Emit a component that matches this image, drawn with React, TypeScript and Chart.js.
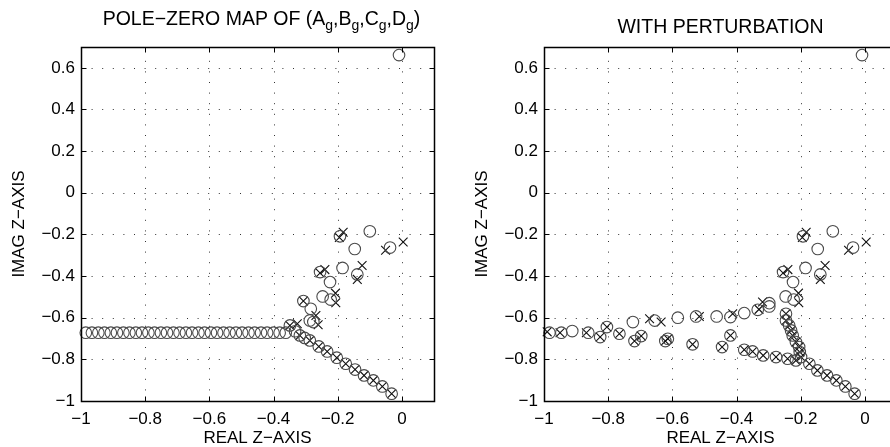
import React, { useEffect, useRef } from "react";
import { Chart, registerables } from "chart.js";
Chart.register(...registerables);

// ---------------- data ----------------
const xTicks = [-1, -0.8, -0.6, -0.4, -0.2, 0];
const yTicks = [-1, -0.8, -0.6, -0.4, -0.2, 0, 0.2, 0.4, 0.6];

const leftTitle = ["POLE−ZERO MAP OF (A", "g", ",B", "g", ",C", "g", ",D", "g", ")"];
const rightTitle = "WITH PERTURBATION";
const xLabel = "REAL Z−AXIS";
const yLabel = "IMAG Z−AXIS";

// zeros / poles common to both maps (upper branch)
const sharedZerosRe = [-0.009, -0.193, -0.1, -0.147, -0.037, -0.255, -0.185, -0.139, -0.224, -0.247, -0.222];
const sharedZerosIm = [0.661, -0.209, -0.185, -0.27, -0.263, -0.381, -0.361, -0.392, -0.429, -0.498, -0.513];
const sharedPolesRe = [-0.195, -0.183, 0.004, -0.051, -0.255, -0.24, -0.124, -0.139, -0.207, -0.206];
const sharedPolesIm = [-0.215, -0.19, -0.236, -0.276, -0.385, -0.369, -0.349, -0.416, -0.482, -0.528];

// left map (nominal)
const leftZerosRe = [
  -0.985, -0.966, -0.946, -0.927, -0.907, -0.888, -0.868, -0.849, -0.829, -0.81, -0.79,
  -0.771, -0.751, -0.732, -0.712, -0.693, -0.673, -0.654, -0.634, -0.615, -0.595, -0.576,
  -0.556, -0.537, -0.517, -0.498, -0.478, -0.459, -0.439, -0.42, -0.4, -0.381, -0.362,
  -0.349, -0.333, -0.318, -0.303, -0.287, -0.259, -0.233, -0.203, -0.175, -0.146, -0.118,
  -0.089, -0.061, -0.032, -0.307, -0.284, -0.287, -0.276,
];
const leftZerosIm = [
  -0.672, -0.672, -0.672, -0.672, -0.672, -0.672, -0.672, -0.672, -0.672, -0.672, -0.672,
  -0.672, -0.672, -0.672, -0.672, -0.672, -0.672, -0.672, -0.672, -0.672, -0.672, -0.672,
  -0.672, -0.672, -0.672, -0.672, -0.672, -0.672, -0.672, -0.672, -0.672, -0.672, -0.672,
  -0.637, -0.665, -0.685, -0.697, -0.709, -0.738, -0.762, -0.792, -0.821, -0.849, -0.877,
  -0.901, -0.93, -0.965, -0.52, -0.557, -0.613, -0.621,
];
const leftPolesRe = [-0.349, -0.326, -0.318, -0.287, -0.259, -0.233, -0.203, -0.175, -0.146, -0.118, -0.089, -0.061, -0.032, -0.307, -0.268, -0.261];
const leftPolesIm = [-0.637, -0.629, -0.685, -0.709, -0.738, -0.762, -0.792, -0.821, -0.849, -0.877, -0.901, -0.93, -0.965, -0.52, -0.589, -0.634];

// right map (with perturbation)
const rightZerosRe = [
  -0.983, -0.946, -0.912, -0.862, -0.825, -0.804, -0.765, -0.723, -0.718, -0.697, -0.655,
  -0.622, -0.614, -0.583, -0.537, -0.526, -0.462, -0.445, -0.419, -0.419, -0.376, -0.376,
  -0.35, -0.334, -0.317, -0.298, -0.298, -0.277, -0.241, -0.215, -0.199, -0.173, -0.148,
  -0.118, -0.089, -0.061, -0.032, -0.246, -0.246, -0.236, -0.23, -0.225, -0.215, -0.205, -0.203,
];
const rightZerosIm = [
  -0.672, -0.672, -0.664, -0.672, -0.693, -0.645, -0.677, -0.621, -0.712, -0.688, -0.614,
  -0.712, -0.701, -0.6, -0.728, -0.594, -0.594, -0.741, -0.685, -0.597, -0.578, -0.754,
  -0.762, -0.562, -0.781, -0.53, -0.546, -0.789, -0.797, -0.805, -0.789, -0.821, -0.853,
  -0.877, -0.901, -0.93, -0.965, -0.581, -0.613, -0.637, -0.661, -0.685, -0.717, -0.741, -0.765,
];
const rightPolesRe = [
  -0.99, -0.95, -0.868, -0.825, -0.804, -0.765, -0.718, -0.697, -0.671, -0.635, -0.622,
  -0.614, -0.537, -0.516, -0.445, -0.419, -0.412, -0.376, -0.35, -0.33, -0.319, -0.317,
  -0.277, -0.241, -0.215, -0.199, -0.173, -0.148, -0.118, -0.089, -0.061, -0.032,
  -0.246, -0.246, -0.236, -0.23, -0.225, -0.215, -0.205, -0.203,
];
const rightPolesIm = [
  -0.668, -0.672, -0.672, -0.693, -0.645, -0.677, -0.712, -0.688, -0.605, -0.621, -0.712,
  -0.701, -0.728, -0.594, -0.741, -0.685, -0.581, -0.754, -0.762, -0.56, -0.525, -0.781,
  -0.789, -0.797, -0.805, -0.789, -0.821, -0.853, -0.877, -0.901, -0.93, -0.965,
  -0.581, -0.613, -0.637, -0.661, -0.685, -0.717, -0.741, -0.765,
];

// ---------------- helpers ----------------
const FONT = '"Liberation Sans", Arial, Helvetica, sans-serif';
const W_PAGE = 890;
const H_PAGE = 447;
const AREA_TOP = 47;
const AREA_BOTTOM = 401;

const zip = (re: number[], im: number[]) => re.map((x, i) => ({ x, y: im[i] }));
const fmt = (v: number) => (v === 0 ? "0" : (v < 0 ? "−" : "") + String(Math.abs(v)));

function framePlugin(drawTitle: (ctx: CanvasRenderingContext2D, cx: number) => void) {
  return {
    id: "pzframe",
    beforeDatasetsDraw(chart: any) {
      const { ctx, chartArea: a, scales } = chart;
      const xs = scales.x, ys = scales.y;
      ctx.save();
      ctx.strokeStyle = "#333";
      ctx.lineWidth = 1;
      ctx.setLineDash([1, 9.6]);
      for (const v of xTicks) {
        const px = Math.round(xs.getPixelForValue(v)) + 0.5;
        if (px <= a.left + 1 || px >= a.right - 1) continue;
        ctx.beginPath();
        ctx.moveTo(px, a.bottom);
        ctx.lineTo(px, a.top);
        ctx.stroke();
      }
      for (const v of yTicks) {
        const py = Math.round(ys.getPixelForValue(v)) + 0.5;
        if (py <= a.top + 1 || py >= a.bottom - 1) continue;
        ctx.beginPath();
        ctx.moveTo(a.left, py);
        ctx.lineTo(a.right, py);
        ctx.stroke();
      }
      ctx.restore();
    },
    afterDatasetsDraw(chart: any) {
      const { ctx, chartArea: a, scales } = chart;
      const xs = scales.x, ys = scales.y;
      const L = Math.round(a.left) + 0.5, R = Math.round(a.right) + 0.5;
      const T = Math.round(a.top) + 0.5, B = Math.round(a.bottom) + 0.5;
      ctx.save();
      ctx.strokeStyle = "#000";
      ctx.lineWidth = 1.5;
      ctx.setLineDash([]);
      ctx.strokeRect(L, T, R - L, B - T);
      ctx.lineWidth = 1;
      const tl = 5;
      ctx.beginPath();
      for (const v of xTicks) {
        const px = Math.round(xs.getPixelForValue(v)) + 0.5;
        ctx.moveTo(px, B); ctx.lineTo(px, B - tl);
        ctx.moveTo(px, T); ctx.lineTo(px, T + tl);
      }
      for (const v of yTicks) {
        const py = Math.round(ys.getPixelForValue(v)) + 0.5;
        ctx.moveTo(L, py); ctx.lineTo(L + tl, py);
        ctx.moveTo(R, py); ctx.lineTo(R - tl, py);
      }
      ctx.stroke();

      const cx = (a.left + a.right) / 2;
      const cy = (a.top + a.bottom) / 2;
      ctx.fillStyle = "#000";
      ctx.font = `17px ${FONT}`;
      ctx.textAlign = "center";
      ctx.textBaseline = "middle";
      ctx.fillText(xLabel, cx, 438);
      ctx.save();
      ctx.translate(a.left - 62, cy);
      ctx.rotate(-Math.PI / 2);
      ctx.fillText(yLabel, 0, 0);
      ctx.restore();
      drawTitle(ctx, cx);
      ctx.restore();
    },
  };
}

function drawLeftTitle(ctx: CanvasRenderingContext2D, cx: number) {
  const mainFont = `19.5px ${FONT}`;
  const subFont = `14px ${FONT}`;
  let total = 0;
  leftTitle.forEach((t, i) => {
    ctx.font = i % 2 === 1 ? subFont : mainFont;
    total += ctx.measureText(t).width;
  });
  let x = cx + 4 - total / 2;
  const base = 25;
  ctx.textAlign = "left";
  ctx.textBaseline = "alphabetic";
  leftTitle.forEach((t, i) => {
    const sub = i % 2 === 1;
    ctx.font = sub ? subFont : mainFont;
    ctx.fillText(t, x, sub ? base + 5 : base);
    x += ctx.measureText(t).width;
  });
}

function drawRightTitle(ctx: CanvasRenderingContext2D, cx: number) {
  ctx.font = `19.5px ${FONT}`;
  ctx.textAlign = "center";
  ctx.textBaseline = "alphabetic";
  ctx.fillText(rightTitle, cx, 33);
}

function makeChart(
  canvas: HTMLCanvasElement,
  width: number,
  areaLeft: number,
  areaRight: number,
  zeros: { x: number; y: number }[],
  poles: { x: number; y: number }[],
  drawTitle: (ctx: CanvasRenderingContext2D, cx: number) => void
) {
  const tickFont = { family: FONT, size: 17 };
  return new Chart(canvas, {
    type: "scatter",
    data: {
      datasets: [
        {
          label: "zeros",
          data: zeros,
          pointStyle: "circle",
          pointRadius: 5.8,
          pointBorderWidth: 1.1,
          pointBorderColor: "#4a4a4a",
          pointBackgroundColor: "rgba(0,0,0,0)",
          showLine: false,
          clip: false as any,
        },
        {
          label: "poles",
          data: poles,
          pointStyle: "crossRot",
          pointRadius: 6.2,
          pointBorderWidth: 1.1,
          pointBorderColor: "#111",
          pointBackgroundColor: "rgba(0,0,0,0)",
          showLine: false,
          clip: false as any,
        },
      ],
    },
    options: {
      responsive: false,
      animation: false,
      devicePixelRatio: 1,
      events: [],
      layout: {
        padding: { left: 0, top: AREA_TOP, right: width - areaRight, bottom: 0 },
      },
      plugins: {
        legend: { display: false },
        tooltip: { enabled: false },
        title: { display: false },
      },
      scales: {
        x: {
          type: "linear",
          min: -1,
          max: 0.1,
          grid: { display: false, drawTicks: false },
          border: { display: false },
          afterBuildTicks: (s: any) => {
            s.ticks = xTicks.map((v) => ({ value: v }));
          },
          afterFit: (s: any) => {
            s.height = H_PAGE - AREA_BOTTOM;
          },
          ticks: {
            callback: (v: any) => fmt(Number(v)),
            font: tickFont,
            color: "#000",
            padding: 8,
            maxRotation: 0,
            autoSkip: false,
          },
        },
        y: {
          type: "linear",
          min: -1,
          max: 0.7,
          grid: { display: false, drawTicks: false },
          border: { display: false },
          afterBuildTicks: (s: any) => {
            s.ticks = yTicks.map((v) => ({ value: v }));
          },
          afterFit: (s: any) => {
            s.width = areaLeft;
          },
          ticks: {
            callback: (v: any) => fmt(Number(v)),
            font: tickFont,
            color: "#000",
            padding: 6,
            autoSkip: false,
          },
        },
      },
    },
    plugins: [framePlugin(drawTitle) as any],
  } as any);
}

export default function App() {
  const leftRef = useRef<HTMLCanvasElement>(null);
  const rightRef = useRef<HTMLCanvasElement>(null);

  useEffect(() => {
    const lz = zip(sharedZerosRe.concat(leftZerosRe), sharedZerosIm.concat(leftZerosIm));
    const lp = zip(sharedPolesRe.concat(leftPolesRe), sharedPolesIm.concat(leftPolesIm));
    const rz = zip(sharedZerosRe.concat(rightZerosRe), sharedZerosIm.concat(rightZerosIm));
    const rp = zip(sharedPolesRe.concat(rightPolesRe), sharedPolesIm.concat(rightPolesIm));
    const c1 = makeChart(leftRef.current!, 445, 81, 434, lz, lp, drawLeftTitle);
    const c2 = makeChart(rightRef.current!, 470, 99, 452, rz, rp, drawRightTitle);
    return () => {
      c1.destroy();
      c2.destroy();
    };
  }, []);

  return (
    <div
      style={{
        position: "fixed",
        left: 0,
        top: 0,
        width: W_PAGE,
        height: H_PAGE,
        overflow: "hidden",
        background: "#fff",
      }}
    >
      <canvas
        ref={leftRef}
        width={445}
        height={H_PAGE}
        style={{ position: "absolute", left: 0, top: 0, width: 445, height: H_PAGE }}
      />
      <canvas
        ref={rightRef}
        width={470}
        height={H_PAGE}
        style={{ position: "absolute", left: 445, top: 0, width: 470, height: H_PAGE }}
      />
    </div>
  );
}
